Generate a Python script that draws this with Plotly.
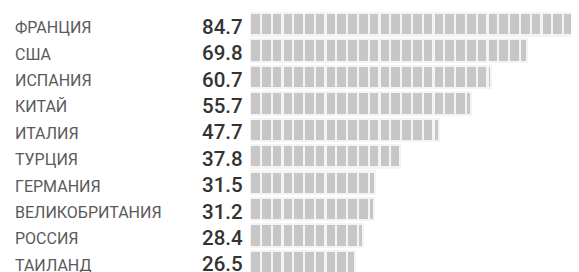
import plotly.graph_objects as go
import math

countries = ["ФРАНЦИЯ", "США", "ИСПАНИЯ", "КИТАЙ", "ИТАЛИЯ", "ТУРЦИЯ",
             "ГЕРМАНИЯ", "ВЕЛИКОБРИТАНИЯ", "РОССИЯ", "ТАИЛАНД"]
values = [84.7, 69.8, 60.7, 55.7, 47.7, 37.8, 31.5, 31.2, 28.4, 26.5]
value_labels = ["84.7", "69.8", "60.7", "55.7", "47.7", "37.8", "31.5", "31.2", "28.4", "26.5"]

SEG = 2.72  # units per bar segment
W, H = 579, 272
OFF = 8  # page body margin compensation
L = 250 - OFF
PXU = 3.97
XMAX = (W - L) / PXU

ypos = list(range(len(countries)))
nseg = int(math.ceil(max(values) / SEG))

fig = go.Figure()
for k in range(nseg):
    xs = [max(0.0, min(SEG, v - k * SEG)) for v in values]
    fig.add_trace(go.Bar(
        y=ypos, x=xs, orientation="h",
        marker=dict(color="#c6c6c6", line=dict(color="#f4f4f4", width=2.2)),
        showlegend=False, hoverinfo="skip",
    ))

band = 26.45
top = 10.6 - OFF
ybottom = (H - top) / band - 0.5

annotations = []
for i, (c, vl) in enumerate(zip(countries, value_labels)):
    annotations.append(dict(
        x=-(L - (13 - OFF)) / (W - L), y=i, xref="paper", yref="y", text=c,
        showarrow=False, xanchor="left", yanchor="middle", yshift=-3.5,
        font=dict(family="Roboto", size=16, color="#5a5a5a"),
    ))
    annotations.append(dict(
        x=-5 / (W - L), y=i, xref="paper", yref="y", text=vl,
        showarrow=False, xanchor="right", yanchor="middle", yshift=-2.5,
        font=dict(family="Roboto", size=20.5, color="#333333", weight=500),
    ))

fig.update_layout(
    width=W, height=H,
    margin=dict(l=L, r=0, t=top, b=0, autoexpand=False),
    barmode="stack", bargap=0.15,
    plot_bgcolor="white", paper_bgcolor="white",
    xaxis=dict(range=[0, XMAX], visible=False),
    yaxis=dict(range=[ybottom, -0.5], visible=False),
    annotations=annotations,
)

fig.write_html("out.html")
